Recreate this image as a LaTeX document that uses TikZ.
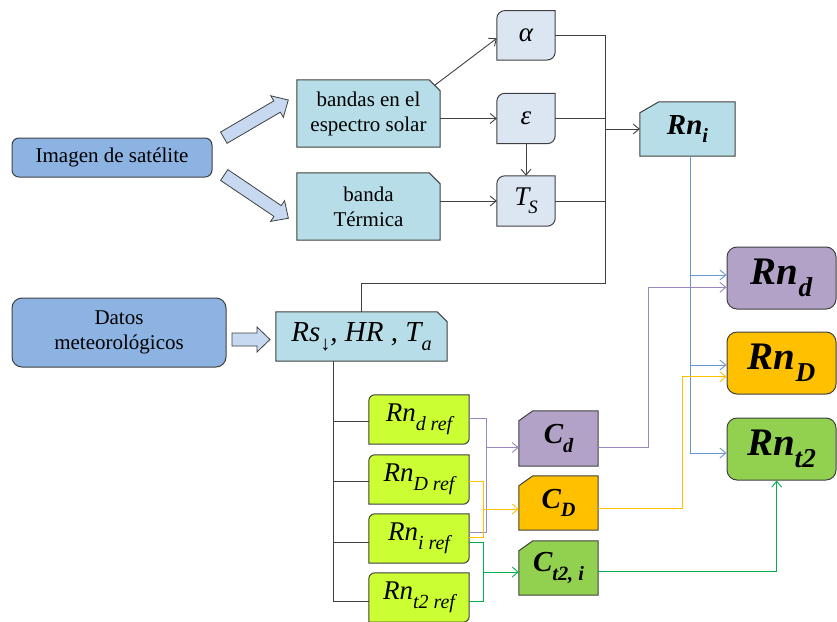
\documentclass[tikz,border=0pt]{standalone}
\usepackage{fontspec}
\setmainfont{Liberation Serif}
\usepackage{graphicx}
\usetikzlibrary{arrows.meta,backgrounds,calc}
\definecolor{medblue}{HTML}{8DB3E2}
\definecolor{ltblue}{HTML}{B7DEE8}
\definecolor{paleblue}{HTML}{DCE6F2}
\definecolor{arrowfill}{HTML}{C6D9F1}
\definecolor{limefill}{HTML}{CCFF33}
\definecolor{purpfill}{HTML}{B3A2C7}
\definecolor{orngfill}{HTML}{FFC000}
\definecolor{grnfill}{HTML}{92D050}
\definecolor{purpline}{HTML}{9A86C0}
\definecolor{blueline}{HTML}{6A96D4}
\definecolor{grnline}{HTML}{00B050}
\definecolor{orngline}{HTML}{FFC000}
\definecolor{edgecol}{HTML}{404040}
\newcommand\sbx[1]{\raisebox{-0.3em}{\scalebox{0.7}{#1}}}
\newcommand\sbr[1]{\raisebox{-0.32em}{\scalebox{0.74}{#1}}}
\newcommand\snipNE[4]{\path[#2] (#1.north west) -- ([xshift=-#3]#1.north east) -- ([yshift=-#4]#1.north east) -- (#1.south east) -- (#1.south west) -- cycle;}
\newcommand\snipNW[4]{\path[#2] ([xshift=#3]#1.north west) -- (#1.north east) -- (#1.south east) -- (#1.south west) -- ([yshift=-#4]#1.north west) -- cycle;}
\newcommand\diagR[3]{\path[#2] ([xshift=#3]#1.north west) -- (#1.north east) -- ([yshift=#3]#1.south east) arc[start angle=0,end angle=-90,radius=#3] -- (#1.south west) -- ([yshift=-#3]#1.north west) arc[start angle=180,end angle=90,radius=#3] -- cycle;}
\newcommand\blockarrow[4]{\draw[barrow, shift={(#1,#2)}, rotate=#3] (0,-6.5) -- (#4-13,-6.5) -- (#4-13,-12.5) -- (#4,0) -- (#4-13,12.5) -- (#4-13,6.5) -- (0,6.5) -- cycle;}
\tikzset{
  lbl/.style={inner sep=0pt, align=center, text=black, font=\fontsize{21}{25}\selectfont},
  shp/.style={draw=edgecol, line width=1pt},
  barrow/.style={draw=edgecol, fill=arrowfill, line width=0.8pt, line join=miter},
  tipb/.style={-{Straight Barb[length=6pt,width=10pt]}},
  ln/.style={draw=edgecol, line width=0.9pt},
  purpln/.style={draw=purpline, line width=0.9pt},
  orngln/.style={draw=orngline, line width=0.9pt},
  grnln/.style={draw=grnline, line width=0.9pt},
  blueln/.style={draw=blueline, line width=0.9pt},
}
\begin{document}
\begin{tikzpicture}[x=1pt,y=1pt]
\useasboundingbox (0,0) rectangle (837,-621);
% input nodes
\node[lbl, shp, fill=medblue, rounded corners=7pt, minimum width=200pt, minimum height=39pt] (img) at (112,-157.5) {Imagen de satélite};
\node[lbl, shp, fill=medblue, rounded corners=10pt, minimum width=214pt, minimum height=69pt] (datos) at (119,-332.5) {Datos\\meteorológicos};
\node[lbl, minimum width=143pt, minimum height=67pt] (bandas) at (368.5,-113.5) {bandas en el\\espectro solar};
\node[lbl, minimum width=143pt, minimum height=67pt] (banda) at (368.5,-206.5) {banda\\Térmica};
\node[lbl, font=\fontsize{27}{30}\selectfont\itshape, minimum width=58pt, minimum height=49pt] (alpha) at (526,-35.3) {α};
\node[lbl, font=\fontsize{27}{30}\selectfont\itshape, minimum width=58pt, minimum height=50pt] (eps) at (526,-118.5) {ε};
\node[lbl, font=\fontsize{27}{30}\selectfont\itshape, minimum width=58pt, minimum height=50pt] (TS) at (526,-201) {T\kern-1pt\sbx{S}};
\node[lbl, font=\fontsize{29}{32}\selectfont\bfseries\itshape, minimum width=95pt, minimum height=54pt] (Rni) at (687.5,-129) {\raisebox{-3pt}{Rn\sbx{i}}};
\node[lbl, font=\fontsize{29}{32}\selectfont\itshape, minimum width=171pt, minimum height=49pt] (Rs) at (361.5,-336.5) {Rs\sbx{\upshape ↓}, HR , T\sbx{a}};
% reference nodes
\node[lbl, font=\fontsize{27}{30}\selectfont\itshape, minimum width=100pt, minimum height=49pt] (Rndref) at (419,-419.5) {Rn\sbr{d ref}};
\node[lbl, font=\fontsize{27}{30}\selectfont\itshape, minimum width=100pt, minimum height=49pt] (RnDref) at (419,-479.5) {Rn\sbr{D ref}};
\node[lbl, font=\fontsize{27}{30}\selectfont\itshape, minimum width=100pt, minimum height=49pt] (Rniref) at (419,-538.5) {Rn\sbr{i ref}};
\node[lbl, font=\fontsize{27}{30}\selectfont\itshape, minimum width=100pt, minimum height=49pt] (Rnt2ref) at (419,-597.5) {Rn\sbr{t2 ref}};
% coefficient nodes
\node[lbl, font=\fontsize{29}{30}\selectfont\bfseries\itshape, minimum width=79pt, minimum height=55pt] (Cd) at (558.5,-438.5) {\raisebox{-4pt}{C\sbx{d}}};
\node[lbl, font=\fontsize{29}{30}\selectfont\bfseries\itshape, minimum width=79pt, minimum height=54pt] (CD) at (558.5,-503) {\raisebox{-4pt}{C\sbx{D}}};
\node[lbl, font=\fontsize{29}{30}\selectfont\bfseries\itshape, minimum width=79pt, minimum height=54pt] (Ct) at (558.5,-568) {\raisebox{-4pt}{C\sbx{t2, i}}};
% result nodes
\node[lbl, shp, fill=purpfill, rounded corners=10pt, font=\fontsize{39}{40}\selectfont\bfseries\itshape, minimum width=109pt, minimum height=62pt] (Rnd) at (781.5,-278) {Rn\sbx{d}};
\node[lbl, shp, fill=orngfill, rounded corners=10pt, font=\fontsize{39}{40}\selectfont\bfseries\itshape, minimum width=109pt, minimum height=62pt] (RnD) at (781.5,-363) {Rn\sbx{D}};
\node[lbl, shp, fill=grnfill, rounded corners=10pt, font=\fontsize{39}{40}\selectfont\bfseries\itshape, minimum width=109pt, minimum height=62pt] (Rnt2) at (781.5,-449) {Rn\sbx{t2}};
% shapes behind text
\begin{scope}[on background layer]
\snipNE{bandas}{shp, fill=ltblue}{11pt}{11pt}
\snipNE{banda}{shp, fill=ltblue}{11pt}{11pt}
\snipNE{Rs}{shp, fill=ltblue}{10pt}{10pt}
\snipNW{Rni}{shp, fill=ltblue}{19pt}{11pt}
\snipNW{Cd}{shp, fill=purpfill}{14pt}{10pt}
\snipNW{CD}{shp, fill=orngfill}{14pt}{10pt}
\snipNW{Ct}{shp, fill=grnfill}{14pt}{10pt}
\diagR{alpha}{shp, fill=paleblue}{8pt}
\diagR{eps}{shp, fill=paleblue}{8pt}
\diagR{TS}{shp, fill=paleblue}{8pt}
\diagR{Rndref}{shp, fill=limefill}{6pt}
\diagR{RnDref}{shp, fill=limefill}{6pt}
\diagR{Rniref}{shp, fill=limefill}{6pt}
\diagR{Rnt2ref}{shp, fill=limefill}{6pt}
\end{scope}
% block arrows
\blockarrow{223.8}{-137.7}{30.3}{74.7}
\blockarrow{224.2}{-175}{-34}{77.4}
\blockarrow{232}{-339.5}{0}{38}
% top connectors
\draw[ln, tipb] ([xshift=-5.5pt,yshift=-5.5pt]bandas.north east) -- ([yshift=-3pt]alpha.west);
\draw[ln, tipb] (bandas.east |- eps.west) -- (eps.west);
\draw[ln, tipb] (eps.south) -- (TS.north);
\draw[ln, tipb] (banda.east |- TS.west) -- (TS.west);
\coordinate (bx) at (605,0);
\coordinate (bb) at (605,-283.5);
\draw[ln] (alpha.east) -- (alpha.east -| bx) -- (bb) -| (Rs.north);
\draw[ln] (eps.east) -- (eps.east -| bx);
\draw[ln] (TS.east) -- (TS.east -| bx);
\draw[ln, tipb] (Rni.west -| bx) -- (Rni.west);
% reference branches
\coordinate (vx) at (333,0);
\coordinate (rs0) at ([xshift=-28.5pt]Rs.south);
\coordinate (r1) at ([yshift=-1.5pt]Rndref.west);
\coordinate (r2) at ([yshift=-1.5pt]RnDref.west);
\coordinate (r3) at ([yshift=-3.5pt]Rniref.west);
\coordinate (r4) at ([yshift=-3.5pt]Rnt2ref.west);
\draw[ln] (rs0) -- (vx |- r4) -- (r4);
\draw[ln] (vx |- r1) -- (r1);
\draw[ln] (vx |- r2) -- (r2);
\draw[ln] (vx |- r3) -- (r3);
% coloured connectors to coefficients
\coordinate (pv) at (486.5,0);
\coordinate (pa) at ([yshift=1.5pt]Rndref.east);
\coordinate (pb) at ([yshift=6.5pt]Rniref.east);
\coordinate (pc) at ([yshift=-9pt]Cd.west);
\draw[purpln] (pa) -| (pv |- pb) -- (pb);
\draw[purpln, tipb] (pv |- pc) -- (pc);
\coordinate (ov) at (483,0);
\coordinate (oa) at ([yshift=-1.5pt]RnDref.east);
\coordinate (ob) at ([yshift=0.8pt]Rniref.east);
\coordinate (oc) at ([yshift=-6pt]CD.west);
\draw[orngln] (oa) -| (ov |- ob) -- (ob);
\draw[orngln, tipb] (ov |- oc) -- (oc);
\coordinate (gv) at (483,0);
\coordinate (ga) at ([yshift=-3.5pt]Rniref.east);
\coordinate (gb) at ([yshift=-3.5pt]Rnt2ref.east);
\coordinate (gc) at ([yshift=-4pt]Ct.west);
\draw[grnln] (ga) -| (gv |- gb) -- (gb);
\draw[grnln, tipb] (gv |- gc) -- (gc);
% right side connectors
\coordinate (bv) at ([xshift=3pt]Rni.south);
\coordinate (b1) at ([yshift=3pt]Rnd.west);
\coordinate (b2) at ([yshift=-2pt]RnD.west);
\coordinate (b3) at ([yshift=-4pt]Rnt2.west);
\draw[blueln, tipb] (bv) |- (b3);
\draw[blueln, tipb] (bv |- b1) -- (b1);
\draw[blueln, tipb] (bv |- b2) -- (b2);
\coordinate (pvx) at (648,0);
\coordinate (cd1) at ([yshift=-9pt]Cd.east);
\coordinate (p1) at ([yshift=-9.3pt]Rnd.west);
\draw[purpln, tipb] (cd1) -| (pvx |- p1) -- (p1);
\coordinate (ovx) at (682.7,0);
\coordinate (cD1) at ([yshift=-5.5pt]CD.east);
\coordinate (o1) at ([yshift=-13.7pt]RnD.west);
\draw[orngln, tipb] (cD1) -| (ovx |- o1) -- (o1);
\coordinate (ct1) at ([yshift=-3pt]Ct.east);
\coordinate (g1) at ([xshift=-4.8pt]Rnt2.south);
\draw[grnln, tipb] (ct1) -| (g1);
\end{tikzpicture}
\end{document}
